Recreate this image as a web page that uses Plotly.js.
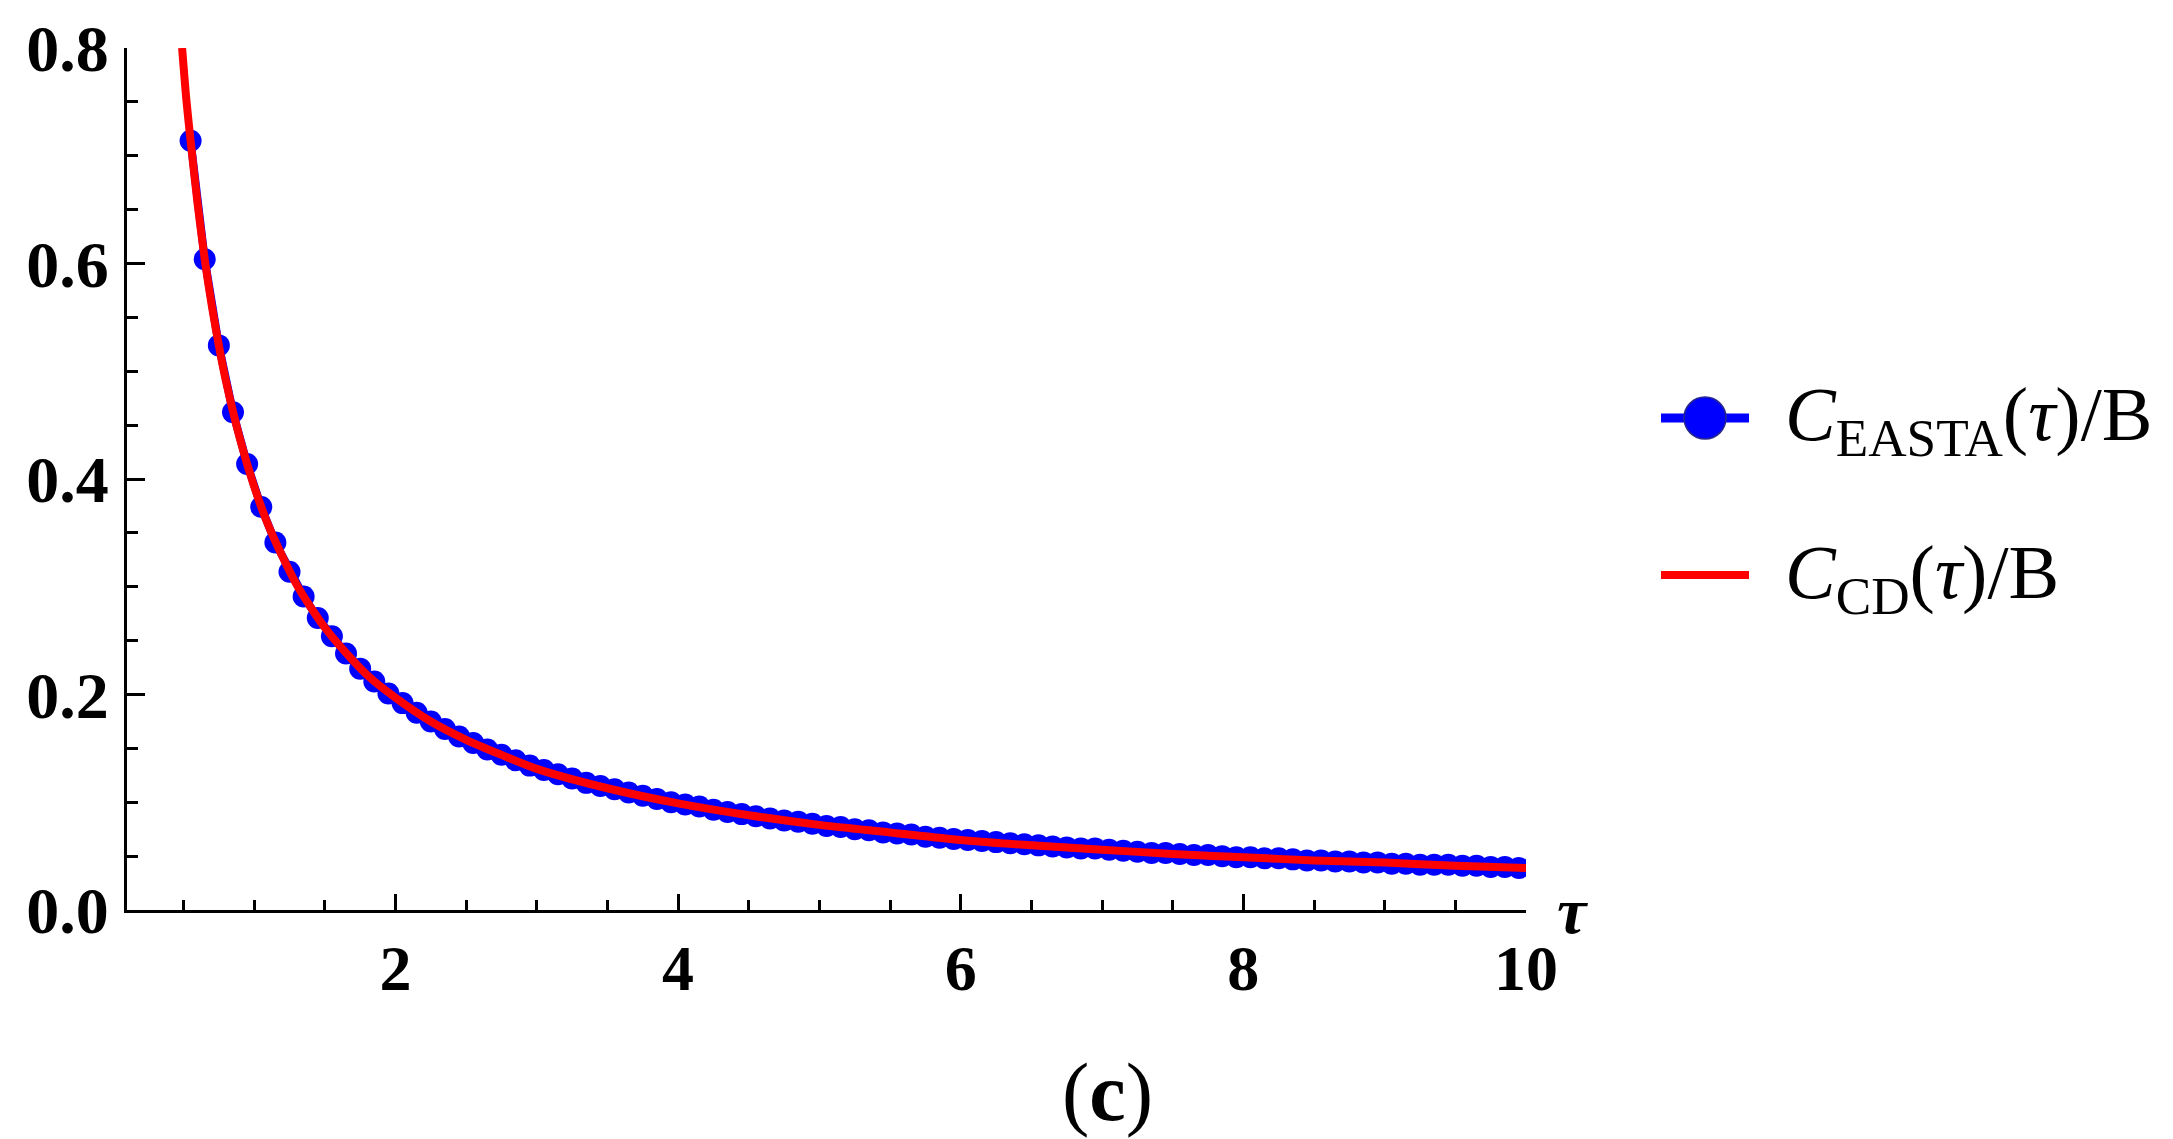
<!DOCTYPE html>
<html>
<head>
<meta charset="utf-8">
<script src="https://cdn.plot.ly/plotly-3.0.1.min.js"></script>
<style>html,body{margin:0;padding:0;background:#fff;}#chart{width:2173px;height:1139px;}</style>
</head>
<body>
<div id="chart"></div>
<script>
// EASTA points (tau, C/B)
const tauEasta = [0.55,0.65,0.75,0.85,0.95,1.05,1.15,1.25,1.35,1.45,1.55,1.65,1.75,1.85,1.95,
  2.05,2.15,2.25,2.35,2.45,2.55,2.65,2.75,2.85,2.95,3.05,3.15,3.25,3.35,3.45,3.55,3.65,3.75,3.85,3.95,
  4.05,4.15,4.25,4.35,4.45,4.55,4.65,4.75,4.85,4.95,5.05,5.15,5.25,5.35,5.45,5.55,5.65,5.75,5.85,5.95,
  6.05,6.15,6.25,6.35,6.45,6.55,6.65,6.75,6.85,6.95,7.05,7.15,7.25,7.35,7.45,7.55,7.65,7.75,7.85,7.95,
  8.05,8.15,8.25,8.35,8.45,8.55,8.65,8.75,8.85,8.95,9.05,9.15,9.25,9.35,9.45,9.55,9.65,9.75,9.85,9.95];
const cEasta = [0.714,0.604,0.524,0.462,0.414,0.374,0.341,0.314,0.291,0.271,0.254,0.238,0.224,0.212,0.201,
  0.192,0.183,0.175,0.168,0.161,0.155,0.149,0.144,0.139,0.134,0.130,0.126,0.122,0.118,0.115,0.112,0.109,0.106,0.103,0.100,
  0.098,0.096,0.093,0.091,0.089,0.087,0.085,0.083,0.082,0.080,0.078,0.077,0.075,0.074,0.072,0.071,0.070,0.068,0.067,0.066,
  0.065,0.064,0.063,0.062,0.061,0.060,0.059,0.058,0.057,0.057,0.056,0.055,0.054,0.053,0.053,0.052,0.051,0.051,0.050,0.049,
  0.049,0.048,0.048,0.047,0.046,0.046,0.045,0.045,0.044,0.044,0.043,0.043,0.042,0.042,0.042,0.041,0.041,0.040,0.040,0.039];
// CD curve (tau, C/B)
const tauCD = [0.49,0.52,0.55,0.6,0.65,0.7,0.75,0.8,0.9,1.0,1.1,1.2,1.3,1.4,1.5,1.6,1.8,2.0,2.25,2.5,2.75,3.0,
  3.5,4.0,4.5,5.0,5.5,6.0,6.5,7.0,7.5,8.0,8.5,9.0,9.5,10.0];
const cCD = [0.800,0.752,0.714,0.655,0.604,0.561,0.524,0.491,0.437,0.393,0.357,0.328,0.302,0.281,0.262,0.246,0.218,0.197,0.175,0.158,0.144,0.131,
  0.113,0.099,0.088,0.079,0.072,0.065,0.060,0.056,0.052,0.049,0.046,0.044,0.041,0.039];
const yTickVals = [0, 0.2, 0.4, 0.6, 0.8];
const yTickText = ['0.0','0.2','0.4','0.6','0.8'];
const xTickVals = [2, 4, 6, 8, 10];
const xTickText = ['2','4','6','8','10'];

const serif = "'Liberation Serif', 'DejaVu Serif', serif";
const BLUE = 'rgb(0,0,255)';
const RED = 'rgb(255,0,0)';

const traces = [
  {x: tauEasta, y: cEasta, type: 'scatter', mode: 'lines+markers', name: 'EASTA',
   line: {color: BLUE, width: 8}, marker: {color: BLUE, size: 22, line: {width: 0}}, showlegend: false},
  {x: tauCD, y: cCD, type: 'scatter', mode: 'lines', name: 'CD',
   line: {color: RED, width: 8, shape: 'spline', smoothing: 0.8}, showlegend: false}
];

const L = 127, R = 1526, T = 48, B = 910;
const W = R - L, H = B - T;
const px = v => (v - L) / W;
const py = v => (B - v) / H;

const layout = {
  width: 2173, height: 1139, autosize: false,
  margin: {l: L, r: 2173 - R, t: T, b: 1139 - B, pad: 0},
  paper_bgcolor: '#fff', plot_bgcolor: '#fff',
  showlegend: false,
  xaxis: {
    range: [0.1, 10], showgrid: false, zeroline: false,
    showline: true, linecolor: '#000', linewidth: 3,
    ticks: 'inside', ticklen: 16, tickwidth: 3, tickcolor: '#000',
    tickvals: xTickVals, ticktext: xTickText,
    ticklabelstandoff: 0,
    tickfont: {family: serif, size: 64, color: '#000', weight: 'bold'},
    minor: {ticks: 'inside', ticklen: 10, tickwidth: 3, tickcolor: '#000', dtick: 0.5, tick0: 0, showgrid: false}
  },
  yaxis: {
    range: [0, 0.8], showgrid: false, zeroline: false,
    showline: true, linecolor: '#000', linewidth: 3,
    ticks: 'inside', ticklen: 18, tickwidth: 3, tickcolor: '#000',
    tickvals: yTickVals, ticktext: yTickText,
    ticklabelstandoff: 2,
    tickfont: {family: serif, size: 66, color: '#000', weight: 'bold'},
    minor: {ticks: 'inside', ticklen: 11, tickwidth: 3, tickcolor: '#000', dtick: 0.05, tick0: 0, showgrid: false}
  },
  shapes: [
    {type: 'line', xref: 'paper', yref: 'paper', x0: px(1661), x1: px(1749), y0: py(418), y1: py(418),
     line: {color: BLUE, width: 9}},
    {type: 'circle', xref: 'paper', yref: 'paper', xsizemode: 'pixel', ysizemode: 'pixel',
     xanchor: px(1705), yanchor: py(418), x0: -21, x1: 21, y0: -21, y1: 21,
     fillcolor: BLUE, line: {color: 'rgb(40,40,140)', width: 1.5}},
    {type: 'line', xref: 'paper', yref: 'paper', x0: px(1661), x1: px(1749), y0: py(575), y1: py(575),
     line: {color: RED, width: 8}}
  ],
  annotations: [
    {xref: 'paper', yref: 'paper', x: px(1783), y: py(420), xanchor: 'left', yanchor: 'middle', showarrow: false,
     text: '<i>C</i><sub>EASTA</sub>(<i>τ</i>)/B', font: {family: serif, size: 76, color: '#000'}},
    {xref: 'paper', yref: 'paper', x: px(1783), y: py(578), xanchor: 'left', yanchor: 'middle', showarrow: false,
     text: '<i>C</i><sub>CD</sub>(<i>τ</i>)/B', font: {family: serif, size: 76, color: '#000'}},
    {xref: 'paper', yref: 'paper', x: px(1572), y: py(910), xanchor: 'center', yanchor: 'middle', showarrow: false,
     text: '<i>τ</i>', font: {family: serif, size: 66, color: '#000', weight: 'bold'}},
    {xref: 'paper', yref: 'paper', x: px(1107), y: py(1092), xanchor: 'center', yanchor: 'middle', showarrow: false,
     text: '(<b>c</b>)', font: {family: serif, size: 82, color: '#000'}}
  ]
};

Plotly.newPlot('chart', traces, layout, {displayModeBar: false, staticPlot: true});
</script>
</body>
</html>
